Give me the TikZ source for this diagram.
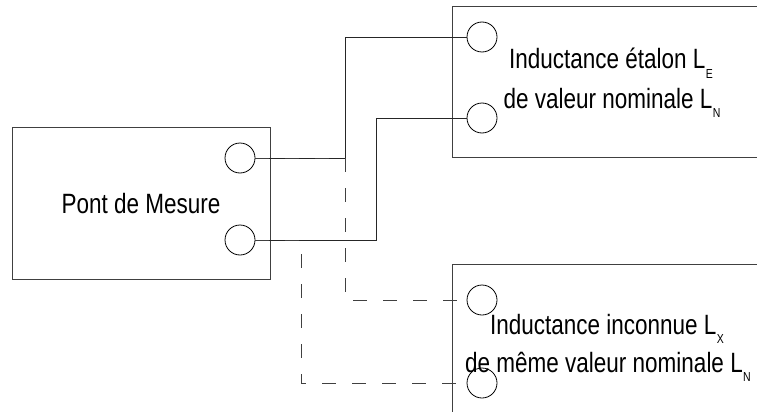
\documentclass[tikz,border=0pt]{standalone}
\usepackage{graphicx}
\usepackage{fontspec}
\setmainfont{Liberation Sans}
\newcommand\subL[1]{\kern0.4pt\raisebox{-7.3pt}{\fontsize{10.5}{10.5}\selectfont #1}}
\newcommand\vstr[1]{\scalebox{1}[1.24]{#1}}
\begin{document}
\begin{tikzpicture}[x=1pt,y=-1pt,
  term/.style={draw=black,circle,minimum size=30pt,inner sep=0pt,line width=0.8pt},
  wire/.style={draw=black!85,line width=0.9pt},
  dwire/.style={draw=black!75,line width=0.9pt,dash pattern=on 14pt off 16pt},
  boxline/.style={draw=black!75,line width=1pt},
  lbl/.style={font=\fontsize{22.5}{26}\selectfont,inner sep=0pt,anchor=base}]
\useasboundingbox (0,0) rectangle (757,412);
% boxes
\node[boxline,rectangle,minimum width=258pt,minimum height=152pt,inner sep=0pt] (pont) at (141,203) {};
\node[lbl] (ptxt) at (141,213) {\vstr{Pont de Mesure}};
\coordinate (eTR) at (757,7); \coordinate (eTL) at (452,7);
\coordinate (eBL) at (452,157); \coordinate (eBR) at (757,157);
\draw[boxline] (eTR) -- (eTL) -- (eBL) -- (eBR);
\coordinate (xTR) at (757,264); \coordinate (xTL) at (452,264); \coordinate (xBL) at (452,412);
\draw[boxline] (xTR) -- (xTL) -- (xBL);
% terminals
\node[term] (pc1) at (240,158) {};
\node[term] (pc2) at (240,240) {};
\node[term] (ec1) at (482,37) {};
\node[term] (ec2) at (482,118) {};
\node[term] (xc1) at (482,300) {};
\node[term] (xc2) at (482,383) {};
% texts
\node[lbl] (et1) at (611,69) {\vstr{Inductance étalon L\subL{E}}};
\node[lbl] (et2) at (612,108) {\vstr{de valeur nominale L\subL{N}}};
\node[lbl] (xt1) at (607,334) {\vstr{Inductance inconnue L\subL{X}}};
\node[lbl] (xt2) at (608,372) {\vstr{de même valeur nominale L\subL{N}}};
% wires
\draw[wire] (pc1.east) -- ++(90,0) |- (ec1.west);
\draw[wire] (pc2.east) -- ++(121,0) |- (ec2.west);
\draw[dwire] (pc1.east) -- ++(90,0) |- (xc1.west);
\draw[dwire] (pc2.east) -- ++(46,0) |- (xc2.west);
\end{tikzpicture}
\end{document}
